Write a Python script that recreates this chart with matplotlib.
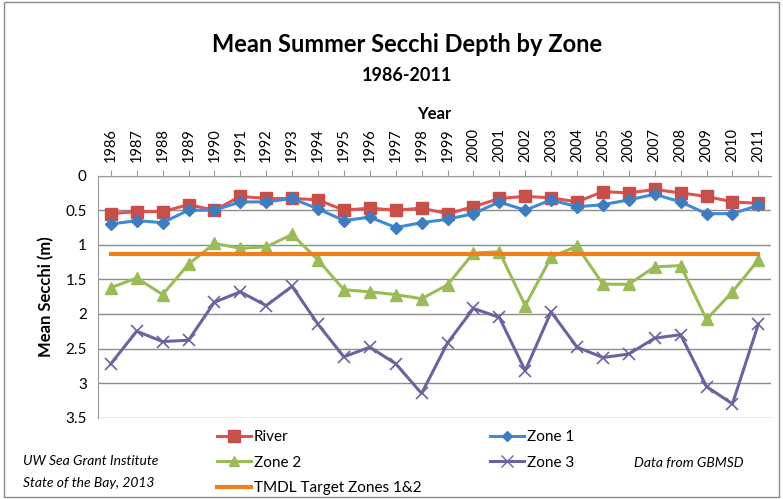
import numpy as np
import matplotlib
matplotlib.use("Agg")
import matplotlib.pyplot as plt
from matplotlib.lines import Line2D

plt.rcParams['font.family'] = ['Lato', 'DejaVu Sans']

years = list(range(1986, 2012))

river = [0.55, 0.52, 0.52, 0.42, 0.50, 0.30, 0.33, 0.33, 0.35, 0.50, 0.47, 0.50, 0.47,
         0.55, 0.45, 0.33, 0.30, 0.32, 0.38, 0.23, 0.25, 0.20, 0.25, 0.30, 0.38, 0.40]
zone1 = [0.70, 0.65, 0.68, 0.50, 0.50, 0.38, 0.38, 0.33, 0.48, 0.65, 0.60, 0.75, 0.68,
         0.63, 0.55, 0.38, 0.50, 0.35, 0.45, 0.42, 0.35, 0.27, 0.38, 0.55, 0.55, 0.43]
zone2 = [1.62, 1.48, 1.72, 1.28, 0.98, 1.05, 1.03, 0.85, 1.22, 1.65, 1.68, 1.72, 1.78,
         1.58, 1.12, 1.10, 1.88, 1.18, 1.02, 1.57, 1.57, 1.32, 1.30, 2.08, 1.68, 1.22]
zone3 = [2.72, 2.25, 2.40, 2.38, 1.83, 1.68, 1.88, 1.60, 2.15, 2.62, 2.48, 2.72, 3.15,
         2.42, 1.92, 2.05, 2.82, 1.97, 2.48, 2.63, 2.58, 2.35, 2.30, 3.05, 3.30, 2.15]
tmdl = 1.13

fig = plt.figure(figsize=(7.83, 4.99), dpi=100)
ax = fig.add_axes([0.125, 0.163, 0.86, 0.485])

x = np.arange(len(years))

# purple zone 3 first so the others sit on top
ax.plot(x, zone3, color='#7060A0', lw=2.2, marker='x', ms=9, mew=1.2, label='Zone 3')
ax.plot(x, zone2, color='#9BBB59', lw=2.2, marker='^', ms=8, label='Zone 2')
ax.plot(x, [tmdl] * len(x), color='#F07F1A', lw=3, label='TMDL Target Zones 1&2')
ax.plot(x, river, color='#E0524F', lw=2.2, marker='s', ms=9, mfc='#C84E4A', mec='#C84E4A', label='River')
ax.plot(x, zone1, color='#3E8AD6', lw=2.2, marker='D', ms=6, mfc='#3E7CC0', mec='#3E7CC0', label='Zone 1')

ax.set_ylim(3.5, 0)
ax.set_xlim(-0.5, len(x) - 0.5)
ax.set_yticks(np.arange(0, 3.51, 0.5))
ax.set_yticklabels(['0', '0.5', '1', '1.5', '2', '2.5', '3', '3.5'], fontsize=11)
ax.yaxis.grid(True, color='#8C8C8C', lw=1)
ax.set_axisbelow(True)

ax.xaxis.tick_top()
ax.xaxis.set_label_position('top')
ax.set_xticks(x)
ax.set_xticklabels([str(y) for y in years], rotation=90, fontsize=10.5)
ax.tick_params(axis='x', length=4, color='#999999', pad=6)
ax.tick_params(axis='y', length=0, pad=8)
ax.set_xlabel('Year', fontsize=12, fontweight='bold', labelpad=6)
ax.set_ylabel('Mean Secchi (m)', fontsize=12, fontweight='bold', labelpad=8)

for s in ['right', 'bottom']:
    ax.spines[s].set_visible(False)
ax.spines['top'].set_color('#999999')
ax.spines['left'].set_color('#999999')

fig.text(0.52, 0.895, 'Mean Summer Secchi Depth by Zone', ha='center', fontsize=17, fontweight='bold')
fig.text(0.52, 0.838, '1986-2011', ha='center', fontsize=13, fontweight='bold')

fig.text(0.03, 0.025, 'UW Sea Grant Institute\nState of the Bay, 2013', fontsize=10,
         style='italic', linespacing=2.0)
fig.text(0.81, 0.065, 'Data from GBMSD', fontsize=10, style='italic')

handles = [
    Line2D([], [], color='#E0524F', lw=2.2, marker='s', ms=8, mfc='#C84E4A', mec='#C84E4A'),
    Line2D([], [], color='#9BBB59', lw=2.2, marker='^', ms=7),
    Line2D([], [], color='#F07F1A', lw=3),
    Line2D([], [], color='#3E8AD6', lw=2.2, marker='D', ms=5, mfc='#3E7CC0', mec='#3E7CC0'),
    Line2D([], [], color='#7060A0', lw=2.2, marker='x', ms=8),
]
labels = ['River', 'Zone 2', 'TMDL Target Zones 1&2', 'Zone 1', 'Zone 3']
fig.legend(handles, labels, ncol=2, loc='lower left', bbox_to_anchor=(0.26, -0.02),
           frameon=False, fontsize=11, handlelength=2.2, handletextpad=0.2,
           columnspacing=4.5, labelspacing=0.75)

# outer border
fig.patches.append(plt.Rectangle((0.005, 0.005), 0.99, 0.99, transform=fig.transFigure,
                                 fill=False, edgecolor='#888888', lw=1))

fig.savefig('out.png', dpi=100)
